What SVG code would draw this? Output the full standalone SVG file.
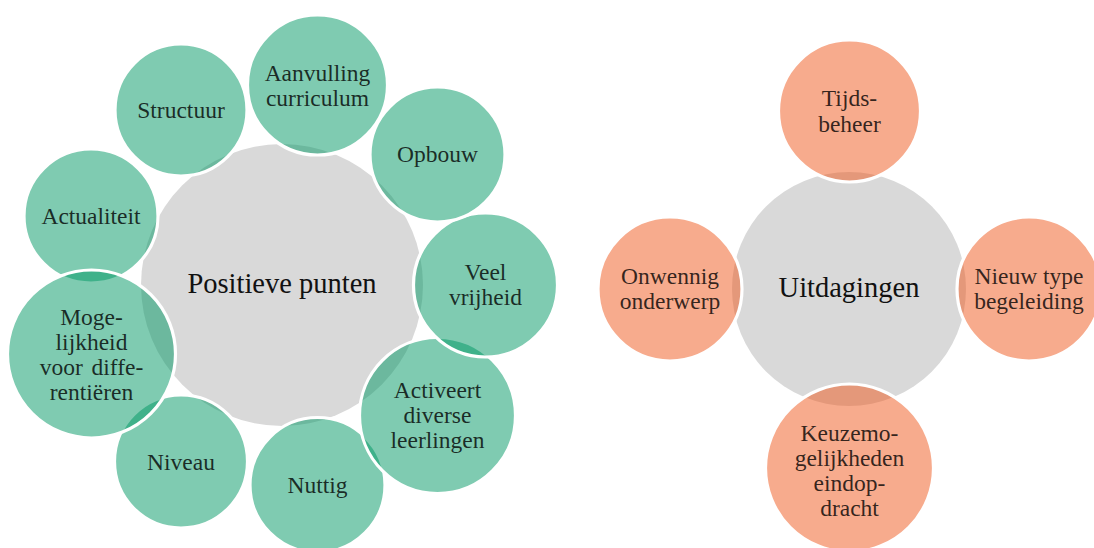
<svg xmlns="http://www.w3.org/2000/svg" width="1094" height="548" viewBox="0 0 1094 548">
  <style>
    .hub { fill: #d9d9d9; }
    .hub-label { font-size: 28.5px; fill: #111; text-anchor: middle; }
    .bubble { stroke: #ffffff; stroke-width: 3.2; fill-opacity: 0.5; }
    .green { fill: #009763; }
    .orange { fill: #ef571b; }
    .label { font-size: 23.5px; fill: #000; fill-opacity: 0.8; text-anchor: middle; }
  </style>
  <rect width="1094" height="548" fill="#ffffff"/>

  <g font-family="'Liberation Serif', 'DejaVu Serif', serif">
  <!-- Left bubble diagram -->
  <g id="positieve-punten">
    <circle class="hub" cx="282" cy="285" r="141"/>
    <text class="hub-label" x="282" y="293">Positieve punten</text>
  </g>
  <g id="niveau">
    <circle class="bubble green" cx="181" cy="461.5" r="66.5"/>
    <text class="label" x="181" y="470">Niveau</text>
  </g>
  <g id="nuttig">
    <circle class="bubble green" cx="317.5" cy="485" r="67.5"/>
    <text class="label" x="317.5" y="493">Nuttig</text>
  </g>
  <g id="activeert">
    <circle class="bubble green" cx="437.5" cy="415.5" r="78"/>
    <text class="label" x="437.5" y="398">Activeert</text>
    <text class="label" x="437.5" y="423">diverse</text>
    <text class="label" x="437.5" y="448">leerlingen</text>
  </g>
  <g id="veel-vrijheid">
    <circle class="bubble green" cx="485.5" cy="285" r="72"/>
    <text class="label" x="485.5" y="280">Veel</text>
    <text class="label" x="485.5" y="305">vrijheid</text>
  </g>
  <g id="opbouw">
    <circle class="bubble green" cx="437.5" cy="154.5" r="67.5"/>
    <text class="label" x="437.5" y="162">Opbouw</text>
  </g>
  <g id="aanvulling-curriculum">
    <circle class="bubble green" cx="317.5" cy="85" r="70"/>
    <text class="label" x="317.5" y="81">Aanvulling</text>
    <text class="label" x="317.5" y="106">curriculum</text>
  </g>
  <g id="structuur">
    <circle class="bubble green" cx="181" cy="110" r="66"/>
    <text class="label" x="181" y="118">Structuur</text>
  </g>
  <g id="actualiteit">
    <circle class="bubble green" cx="91" cy="216" r="67"/>
    <text class="label" x="91" y="224">Actualiteit</text>
  </g>
  <g id="mogelijkheid-differentieren">
    <circle class="bubble green" cx="91.5" cy="354" r="84"/>
    <text class="label" x="91.5" y="325">Moge-</text>
    <text class="label" x="91.5" y="350">lijkheid</text>
    <text class="label" x="91.5" y="375" word-spacing="3">voor diffe-</text>
    <text class="label" x="91.5" y="400">rentiëren</text>
  </g>

  <!-- Right bubble diagram -->
  <g id="uitdagingen">
    <circle class="hub" cx="849" cy="289" r="117"/>
    <text class="hub-label" x="849" y="297">Uitdagingen</text>
  </g>
  <g id="tijdsbeheer">
    <circle class="bubble orange" cx="849.5" cy="111" r="71"/>
    <text class="label" x="849.5" y="106">Tijds-</text>
    <text class="label" x="849.5" y="132">beheer</text>
  </g>
  <g id="nieuw-type-begeleiding">
    <circle class="bubble orange" cx="1029" cy="289" r="72"/>
    <text class="label" x="1029" y="284">Nieuw type</text>
    <text class="label" x="1029" y="309">begeleiding</text>
  </g>
  <g id="keuzemogelijkheden-eindopdracht">
    <circle class="bubble orange" cx="849.5" cy="468" r="84"/>
    <text class="label" x="849.5" y="441">Keuzemo-</text>
    <text class="label" x="849.5" y="466">gelijkheden</text>
    <text class="label" x="849.5" y="491">eindop-</text>
    <text class="label" x="849.5" y="516">dracht</text>
  </g>
  <g id="onwennig-onderwerp">
    <circle class="bubble orange" cx="670" cy="289" r="72"/>
    <text class="label" x="670" y="284">Onwennig</text>
    <text class="label" x="670" y="309">onderwerp</text>
  </g>
  </g>

  <g id="connectors"/>
</svg>
